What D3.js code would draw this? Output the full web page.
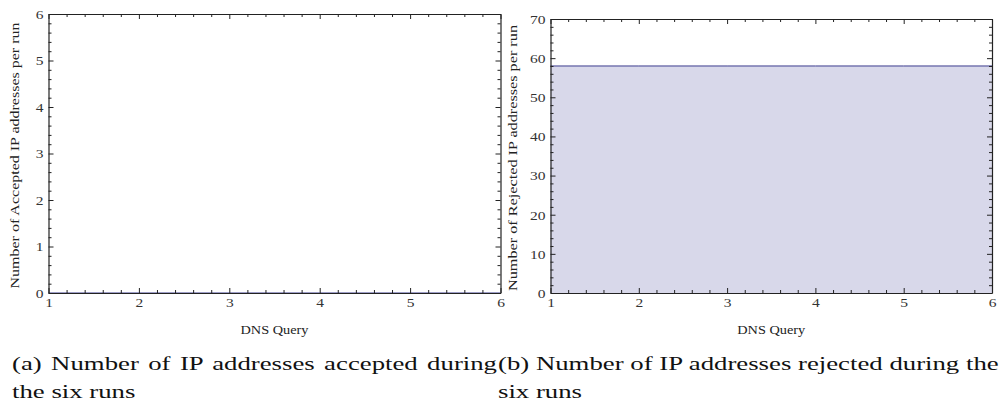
<!DOCTYPE html>
<html>
<head>
<meta charset="utf-8">
<script src="https://cdn.jsdelivr.net/npm/d3@7"></script>
</head>
<body style="margin:0">
<svg width="1001" height="406"></svg>
<script>
// data
var runs = [1, 2, 3, 4, 5, 6];
var accepted = [0, 0, 0, 0, 0, 0];
var rejected = [58, 58, 58, 58, 58, 58];
var xTicks = [1, 2, 3, 4, 5, 6];
var acceptedTicks = [0, 1, 2, 3, 4, 5, 6];
var rejectedTicks = [0, 10, 20, 30, 40, 50, 60, 70];

var svg = d3.select('svg');
var serif = 'Liberation Serif';
var sx = 1.15; // the picture is a bit wider than tall

function panel(opt) {
  var x = d3.scaleLinear().domain([1, 6]).range([opt.left, opt.right]);
  var y = d3.scaleLinear().domain([0, opt.ymax]).range([opt.bottom, opt.top]);
  var g = svg.append('g');

  var pts = runs.map(function(d, i) { return [d, opt.values[i]]; });

  // filled area down to axis
  g.append('path')
    .datum(pts)
    .attr('fill', '#d8d8ea')
    .attr('d', d3.area().x(function(d) { return x(d[0]); }).y0(y(0)).y1(function(d) { return y(d[1]); }));
  g.append('path')
    .datum(pts)
    .attr('fill', 'none')
    .attr('stroke', '#3d3d8f')
    .attr('stroke-width', 1)
    .attr('d', d3.line().x(function(d) { return x(d[0]); }).y(function(d) { return y(d[1]); }));

  // minor tick values
  var xMinor = d3.range(1, 6.001, 0.2).filter(function(v) { return Math.abs(v - Math.round(v)) > 1e-6; });
  var ystep = opt.ticks[1] - opt.ticks[0];
  var yMinor = d3.range(0, opt.ymax + 1e-6, ystep / 5).filter(function(v) { return Math.abs(v / ystep - Math.round(v / ystep)) > 1e-6; });

  function frameAxis(axisFn, scale, major, minor, tr, showLabels, pad) {
    var a = g.append('g').attr('transform', tr);
    a.call(axisFn(scale).tickValues(major).tickSizeInner(-5).tickSizeOuter(0).tickPadding(pad)
      .tickFormat(showLabels ? d3.format('d') : ''));
    a.append('g').call(axisFn(scale).tickValues(minor).tickSizeInner(-3).tickSizeOuter(0).tickFormat(''))
      .select('.domain').remove();
    a.attr('font-family', serif).attr('font-size', 13.5);
    a.selectAll('line').attr('stroke', '#222');
    a.select('.domain').attr('stroke', '#222');
    a.selectAll('text').attr('fill', '#333')
      .attr('x', function() { return (+this.getAttribute('x') || 0) / sx; })
      .attr('transform', 'scale(' + sx + ',1)');
    return a;
  }

  frameAxis(d3.axisBottom, x, xTicks, xMinor, 'translate(0,' + opt.bottom + ')', true, 4.5);
  frameAxis(d3.axisTop, x, xTicks, xMinor, 'translate(0,' + opt.top + ')', false, 5);
  frameAxis(d3.axisLeft, y, opt.ticks, yMinor, 'translate(' + opt.left + ',0)', true, 5);
  frameAxis(d3.axisRight, y, opt.ticks, yMinor, 'translate(' + opt.right + ',0)', false, 5);

  g.selectAll('.domain').attr('stroke-width', 1.2);

  g.append('text')
    .attr('x', (opt.left + opt.right) / 2)
    .attr('y', 333.5)
    .attr('text-anchor', 'middle')
    .attr('font-family', serif)
    .attr('font-size', 11.5)
    .attr('textLength', 68)
    .attr('lengthAdjust', 'spacingAndGlyphs')
    .attr('fill', '#222')
    .text('DNS Query');

  g.append('text')
    .attr('transform', 'translate(' + opt.labelX + ',' + ((opt.top + opt.bottom) / 2 + 2) + ') rotate(-90)')
    .attr('text-anchor', 'middle')
    .attr('font-family', serif)
    .attr('font-size', 12)
    .attr('textLength', 266)
    .attr('lengthAdjust', 'spacingAndGlyphs')
    .attr('fill', '#222')
    .text(opt.ylabel);
}

panel({ left: 48.5, right: 500.5, top: 14, bottom: 293, ymax: 6, ticks: acceptedTicks,
  values: accepted, labelX: 18.5, ylabel: 'Number of Accepted IP addresses per run' });
panel({ left: 550.5, right: 992, top: 19, bottom: 293, ymax: 70, ticks: rejectedTicks,
  values: rejected, labelX: 517, ylabel: 'Number of Rejected IP addresses per run' });

// captions, stretched sideways so line (b) fills its column
var capSize = 19;
var probe = svg.append('text').attr('font-family', serif).attr('font-size', capSize)
  .text('(b) Number of IP addresses rejected during the');
var capSx = 501 / probe.node().getComputedTextLength();
probe.remove();

function caption(x, y, txt, width) {
  var t = svg.append('text')
    .attr('transform', 'translate(' + x + ',' + y + ') scale(' + capSx + ',1)')
    .attr('font-family', serif)
    .attr('font-size', capSize)
    .attr('fill', '#111')
    .text(txt);
  if (width) {
    var w = t.node().getComputedTextLength();
    var gaps = txt.split(' ').length - 1;
    t.attr('word-spacing', (width / capSx - w) / gaps);
  }
  return t;
}

caption(12, 370, '(a) Number of IP addresses accepted during', 485);
caption(12, 398, 'the six runs');
caption(498, 370, '(b) Number of IP addresses rejected during the');
caption(498, 398, 'six runs');
</script>
</body>
</html>
